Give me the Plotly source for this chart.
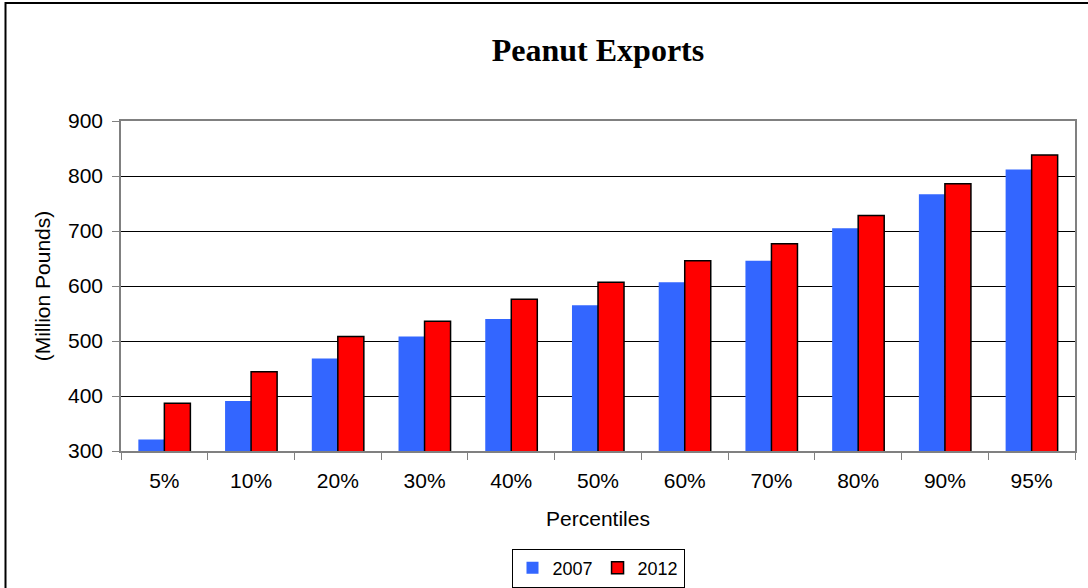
import plotly.graph_objects as go

categories = ["5%", "10%", "20%", "30%", "40%", "50%", "60%", "70%", "80%", "90%", "95%"]
exports_2007 = [321, 391, 468, 508, 540, 565, 607, 646, 705, 767, 812]
exports_2012 = [387, 444, 508, 536, 576, 607, 646, 677, 728, 786, 838]
y_ticks = [300, 400, 500, 600, 700, 800, 900]

W, H = 1088, 588
L, R, T, B = 121, 13, 121, 137
pw, ph = W - L - R, H - T - B

fig = go.Figure()
fig.add_trace(go.Bar(name="2007", x=categories, y=exports_2007,
                     marker=dict(color="#3366FF", line=dict(width=0))))
fig.add_trace(go.Bar(name="2012", x=categories, y=exports_2012,
                     marker=dict(color="#FF0000", line=dict(color="black", width=1.5))))

def px_x(p):
    return (p - L) / pw

def px_y(p):
    return (H - B - p) / ph

fig.update_layout(
    width=W, height=H,
    margin=dict(l=L, r=R, t=T, b=B, autoexpand=False),
    paper_bgcolor="white", plot_bgcolor="white",
    barmode="group", bargap=0.4, bargroupgap=0,
    font=dict(family="Liberation Sans, Arial", size=21, color="black"),
    title=dict(text="<b>Peanut Exports</b>", x=0.5, xanchor="center",
               y=1 - 50 / H, yanchor="middle", xref="paper",
               font=dict(family="Liberation Serif, Times New Roman", size=32, color="black")),
    xaxis=dict(type="category", tickson="boundaries", ticks="outside", ticklen=7,
               tickcolor="#808080", showline=True, linecolor="#808080", linewidth=1.5,
               mirror=True, showgrid=False, ticklabelstandoff=10,
               title=dict(text="Percentiles", standoff=20, font=dict(size=21))),
    yaxis=dict(range=[300, 900], tickvals=y_ticks, ticks="outside", ticklen=7,
               tickcolor="#808080", showline=True, linecolor="#808080", linewidth=1.5,
               mirror=True, showgrid=True, gridcolor="black", gridwidth=1,
               ticklabelstandoff=5, zeroline=False,
               title=dict(text="(Million Pounds)", standoff=12, font=dict(size=21))),
    legend=dict(orientation="h", x=0.5, xanchor="center", y=px_y(568), yanchor="middle",
                bordercolor="black", borderwidth=1, font=dict(size=18),
                itemwidth=30, tracegroupgap=0),
    showlegend=True,
)

fig.add_shape(type="rect", xref="paper", yref="paper",
              x0=px_x(5.5), x1=px_x(W + 20), y0=px_y(H + 20), y1=px_y(3),
              line=dict(color="black", width=2), fillcolor="rgba(0,0,0,0)", layer="below")

fig.write_html("out.html", config={"displayModeBar": False},
               post_script="document.body.style.margin='0';document.body.style.overflow='hidden';")
